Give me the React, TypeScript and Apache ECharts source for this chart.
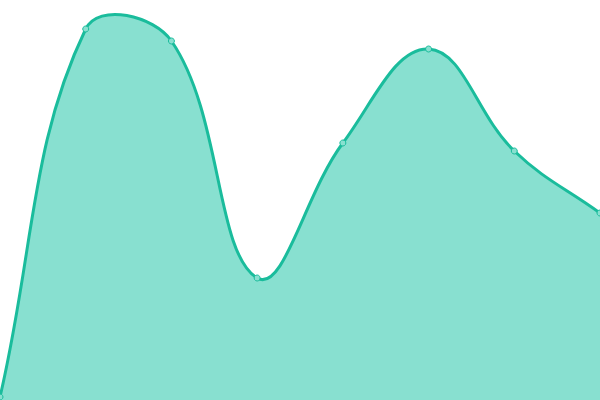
import React, { useEffect, useRef } from "react";
import * as echarts from "echarts";

const categories = ["A", "B", "C", "D", "E", "F", "G", "H"];
const values = [3, 371, 359, 122, 257, 351, 249, 187];
const yMin = 0;
const yMax = 400;
const tension = 0.4;

type P = { x: number; y: number };

function buildPaths(pts: P[], left: number, right: number, top: number, bottom: number) {
  const cps: { prev: P; next: P }[] = [];
  for (let i = 0; i < pts.length; i++) {
    const cur = pts[i];
    const prev = pts[i - 1] || cur;
    const next = pts[i + 1] || cur;
    const d01 = Math.hypot(cur.x - prev.x, cur.y - prev.y);
    const d12 = Math.hypot(next.x - cur.x, next.y - cur.y);
    let s01 = d01 / (d01 + d12);
    let s12 = d12 / (d01 + d12);
    if (isNaN(s01)) s01 = 0;
    if (isNaN(s12)) s12 = 0;
    const fa = tension * s01;
    const fb = tension * s12;
    const clampX = (v: number) => Math.min(Math.max(v, left), right);
    const clampY = (v: number) => Math.min(Math.max(v, top), bottom);
    cps.push({
      prev: { x: clampX(cur.x - fa * (next.x - prev.x)), y: clampY(cur.y - fa * (next.y - prev.y)) },
      next: { x: clampX(cur.x + fb * (next.x - prev.x)), y: clampY(cur.y + fb * (next.y - prev.y)) },
    });
  }
  let d = `M${pts[0].x},${pts[0].y}`;
  for (let i = 1; i < pts.length; i++) {
    const a = cps[i - 1].next;
    const b = cps[i].prev;
    d += ` C${a.x},${a.y} ${b.x},${b.y} ${pts[i].x},${pts[i].y}`;
  }
  const area = `${d} L${pts[pts.length - 1].x},${bottom} L${pts[0].x},${bottom} Z`;
  return { line: d, area };
}

export default function App() {
  const ref = useRef<HTMLDivElement>(null);
  useEffect(() => {
    if (!ref.current) return;
    const chart = echarts.init(ref.current, null, { renderer: "svg" });
    const lineColor = "#1abc9c";
    const fillColor = "#88e0d0";
    chart.setOption({
      animation: false,
      grid: { left: 0, right: 0, top: 0, bottom: 0 },
      xAxis: { type: "category", data: categories, boundaryGap: false, show: false },
      yAxis: { type: "value", min: yMin, max: yMax, show: false },
      series: [
        {
          type: "custom",
          data: values.map((v, i) => [i, v]),
          clip: false,
          renderItem: (params: any, api: any) => {
            const idx = params.dataIndex;
            const c = api.coord([idx, values[idx]]);
            const dot = {
              type: "circle",
              shape: { cx: c[0], cy: c[1], r: 3 },
              style: { fill: fillColor, stroke: lineColor, lineWidth: 1 },
              z2: 10,
            };
            if (idx !== 0) return dot;
            const pts: P[] = values.map((v, i) => {
              const p = api.coord([i, v]);
              return { x: p[0], y: p[1] };
            });
            const b = api.coord([0, yMin])[1];
            const t = api.coord([0, yMax])[1];
            const l = pts[0].x;
            const r = pts[pts.length - 1].x;
            const paths = buildPaths(pts, l, r, t, b);
            return {
              type: "group",
              children: [
                { type: "path", shape: { pathData: paths.area }, style: { fill: fillColor, stroke: "none" } },
                {
                  type: "path",
                  shape: { pathData: paths.line },
                  style: { fill: "none", stroke: lineColor, lineWidth: 3, lineJoin: "round", lineCap: "round" },
                },
                dot,
              ],
            };
          },
        },
      ],
    });
    return () => chart.dispose();
  }, []);
  return (
    <div
      ref={ref}
      style={{ position: "fixed", left: 0, top: 0, width: 600, height: 400 }}
    />
  );
}
